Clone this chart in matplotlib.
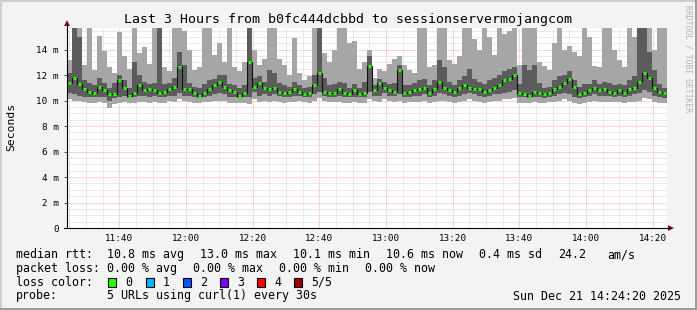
import numpy as np
import matplotlib
matplotlib.use('Agg')
import matplotlib.pyplot as plt
from matplotlib.patches import Rectangle, Polygon
from matplotlib.lines import Line2D

plt.rcParams['font.family'] = ['DejaVu Sans Mono']

W, H = 697, 310

# 3 hours, one value per 1.5 min step, in ms
step = 1.5
start_min = 11 * 60 + 24 + 20 / 60.0   # 11:24:20

# smoke: lightest band (lo1..hi1), darker band (lo2..hi2), median
lo1 = [10.1, 10.0, 10.0, 9.9, 9.8, 9.8, 9.9, 9.8, 9.4, 9.7,
       9.8, 9.9, 9.8, 9.8, 9.9, 9.9, 9.8, 9.9, 9.8, 9.8,
       10.0, 9.9, 10.1, 10.0, 9.9, 9.8, 9.8, 9.9, 9.9, 10.0,
       10.0, 10.0, 9.8, 9.8, 9.8, 9.8, 9.7, 10.1, 9.9, 10.0,
       9.9, 10.0, 9.9, 9.8, 9.9, 9.9, 10.0, 9.9, 9.8, 10.0,
       10.2, 10.0, 9.9, 9.9, 9.9, 9.8, 9.8, 9.9, 9.8, 9.8,
       10.1, 10.0, 9.9, 10.1, 10.0, 9.9, 10.0, 9.8, 9.9, 9.9,
       9.9, 10.0, 9.8, 9.9, 10.0, 10.0, 9.9, 9.8, 9.9, 10.0,
       10.1, 10.0, 9.9, 9.8, 9.9, 10.0, 10.0, 10.1, 10.1, 10.2,
       9.8, 9.8, 9.8, 9.9, 9.8, 9.8, 9.9, 9.9, 10.0, 10.1,
       10.0, 9.8, 9.7, 9.8, 9.9, 10.0, 9.9, 9.9, 9.9, 9.9,
       9.9, 9.8, 9.9, 9.9, 10.0, 10.2, 10.1, 9.9, 9.8, 9.8]

lo2 = [10.6, 10.5, 10.4, 10.3, 10.3, 10.3, 10.3, 10.3, 10.0, 10.2,
       10.3, 10.4, 10.2, 10.3, 10.4, 10.4, 10.3, 10.4, 10.3, 10.3,
       10.4, 10.4, 10.6, 10.4, 10.4, 10.3, 10.2, 10.3, 10.4, 10.5,
       10.6, 10.5, 10.3, 10.3, 10.2, 10.3, 10.3, 10.7, 10.4, 10.5,
       10.4, 10.5, 10.4, 10.3, 10.3, 10.4, 10.4, 10.3, 10.3, 10.5,
       10.7, 10.4, 10.3, 10.3, 10.4, 10.3, 10.3, 10.3, 10.3, 10.3,
       10.7, 10.4, 10.4, 10.6, 10.4, 10.4, 10.5, 10.3, 10.3, 10.4,
       10.4, 10.5, 10.3, 10.4, 10.6, 10.5, 10.4, 10.3, 10.4, 10.5,
       10.6, 10.5, 10.4, 10.3, 10.4, 10.5, 10.5, 10.6, 10.7, 10.8,
       10.3, 10.3, 10.2, 10.3, 10.3, 10.2, 10.3, 10.4, 10.5, 10.6,
       10.5, 10.3, 10.2, 10.3, 10.4, 10.5, 10.4, 10.4, 10.4, 10.3,
       10.4, 10.3, 10.4, 10.5, 10.6, 10.8, 10.7, 10.4, 10.3, 10.2]

median = [11.4, 11.8, 11.3, 10.9, 10.7, 10.6, 11.1, 10.8, 10.5, 10.5,
          11.6, 11.0, 10.4, 10.6, 11.2, 10.8, 10.9, 10.8, 10.6, 10.7,
          10.9, 11.1, 12.6, 10.9, 10.9, 10.6, 10.4, 10.6, 10.9, 11.2,
          11.5, 11.1, 10.8, 10.7, 10.4, 10.6, 13.0, 11.1, 11.4, 11.0,
          10.9, 11.0, 10.7, 10.6, 10.7, 10.9, 10.7, 10.5, 10.6, 11.2,
          12.2, 10.7, 10.6, 10.6, 10.9, 10.6, 10.5, 10.8, 10.5, 10.6,
          12.7, 10.8, 11.4, 11.0, 10.8, 10.7, 12.4, 10.6, 10.7, 10.8,
          10.9, 11.0, 10.6, 10.9, 11.5, 11.0, 10.8, 10.7, 11.0, 11.2,
          11.0, 10.9, 10.9, 10.7, 10.8, 11.0, 11.2, 11.6, 11.7, 12.0,
          10.6, 10.5, 10.4, 10.7, 10.6, 10.5, 10.6, 10.9, 11.1, 11.4,
          11.7, 11.1, 10.5, 10.6, 10.8, 11.0, 10.8, 10.9, 10.7, 10.6,
          10.8, 10.6, 10.9, 11.0, 11.5, 12.2, 11.8, 11.0, 10.7, 10.6]

hi2 = [12.2, 16, 15.0, 11.6, 11.4, 11.2, 11.8, 11.4, 11.0, 11.4,
       12.0, 11.6, 11.0, 13.0, 12.0, 11.5, 11.3, 11.4, 16, 11.3,
       11.4, 11.8, 13.8, 12.8, 11.4, 11.1, 11.0, 11.3, 11.6, 11.7,
       12.0, 12.0, 11.3, 11.2, 11.0, 11.2, 16, 11.8, 11.9, 11.5,
       12.4, 12.2, 11.4, 11.2, 11.1, 11.5, 11.2, 11.0, 11.1, 12.0,
       16, 11.8, 11.2, 11.3, 11.5, 11.4, 11.0, 11.3, 11.0, 11.5,
       13.5, 11.2, 11.7, 11.5, 11.3, 11.4, 12.8, 11.2, 11.2, 11.4,
       11.6, 11.7, 11.2, 11.6, 13.2, 12.6, 11.5, 11.2, 11.6, 11.9,
       12.5, 11.7, 11.5, 11.3, 11.6, 11.8, 12.0, 12.3, 12.5, 12.6,
       11.3, 12.8, 12.4, 12.8, 11.4, 11.0, 11.1, 11.6, 11.9, 12.0,
       12.3, 11.6, 11.1, 11.3, 11.3, 11.6, 11.3, 11.5, 11.4, 11.2,
       11.3, 11.2, 11.6, 11.9, 16, 16, 13.8, 12.4, 11.3, 11.0]

hi1 = [13.2, 16, 16, 12.8, 16, 12.4, 15.1, 13.9, 12.6, 12.2,
       15.4, 13.5, 12.5, 16, 13.7, 14.2, 12.9, 16, 16, 12.6,
       12.3, 16, 16, 15.5, 14.0, 12.4, 12.6, 16, 16, 13.6,
       14.5, 13.0, 16, 12.6, 12.3, 13.0, 16, 14.0, 12.8, 13.3,
       16, 16, 13.3, 12.8, 12.0, 14.9, 12.2, 11.6, 11.9, 16,
       16, 13.7, 13.0, 14.0, 16, 16, 14.5, 14.7, 12.5, 13.0,
       14.0, 11.8, 12.5, 12.3, 12.9, 13.3, 13.5, 12.8, 12.4, 12.2,
       16, 16, 12.6, 12.8, 16, 16, 13.2, 12.9, 13.5, 16,
       16, 14.8, 14.0, 16, 15.0, 13.6, 16, 15.2, 15.5, 15.8,
       12.8, 16, 16, 16, 13.0, 12.7, 12.4, 14.5, 16, 14.0,
       14.3, 13.8, 13.5, 16, 15.0, 12.7, 12.6, 16, 16, 14.0,
       13.2, 12.6, 16, 15.0, 16, 16, 16, 14.0, 16, 16]

major_times = ['11:40', '12:00', '12:20', '12:40', '13:00', '13:20', '13:40', '14:00', '14:20']
y_labels = ['0', '2 m', '4 m', '6 m', '8 m', '10 m', '12 m', '14 m']

loss_names = ['0', '1', '2', '3', '4', '5/5']
loss_colors = ['#26ff00', '#00b8ff', '#0059ff', '#7e00ff', '#ff0000', '#a10000']


def fx(x):
    return x / W


def fy(y):
    return 1 - y / H


def tmin(s):
    h, m = s.split(':')
    return int(h) * 60 + int(m) - start_min


fig = plt.figure(figsize=(W / 100, H / 100), dpi=100, facecolor='#f3f3f3')
ax = fig.add_axes([fx(67), fy(228), 600 / W, 200 / H])
ax.set_facecolor('white')

edges = np.arange(len(median) + 1) * step
ax.stairs(hi1, edges, baseline=lo1, fill=True, color='#a6a6a6', lw=0, zorder=1)
ax.stairs(hi2, edges, baseline=lo2, fill=True, color='#5c5c5c', lw=0, zorder=1.1)
ax.stairs(median, edges, baseline=None, color='#111111', lw=0.8, zorder=3)
ax.hlines(median, edges[:-1] + 0.3, edges[1:] - 0.3, color=loss_colors[0], lw=2.2, zorder=3.1)

ax.set_xlim(0, 180)
ax.set_ylim(0, 15.7)

ax.set_xticks([tmin(t) for t in major_times], major_times)
minor_x = [m - start_min for m in range(11 * 60 + 25, 14 * 60 + 25, 5)]
ax.set_xticks(minor_x, minor=True)
ax.set_yticks(np.arange(0, 15, 2), y_labels)
ax.set_yticks(np.arange(0, 15.7, 0.5), minor=True)

ax.set_axisbelow(True)
ax.grid(which='minor', color='#d6d6d6', linestyle=(0, (1, 1)), lw=0.72)
ax.grid(which='major', color='#ffaaaa', linestyle=(0, (1, 1)), lw=0.72)

ax.tick_params(axis='x', which='both', length=0, pad=4.3, labelsize=6.7)
ax.tick_params(axis='y', which='major', length=2.2, width=0.72, color='#555555', pad=3.6, labelsize=6.7)
ax.tick_params(axis='y', which='minor', length=0)
for s in ax.spines.values():
    s.set_visible(False)

# axis lines and arrows
fig.add_artist(Line2D([fx(67), fx(67)], [fy(228), fy(24)], color='black', lw=0.8))
fig.add_artist(Line2D([fx(64), fx(670)], [fy(228), fy(228)], color='black', lw=0.8))
fig.add_artist(Polygon([(fx(67), fy(20)), (fx(64), fy(26)), (fx(70), fy(26))],
                       closed=True, color='#8b1414', lw=0))
fig.add_artist(Polygon([(fx(674), fy(228)), (fx(668), fy(225)), (fx(668), fy(231))],
                       closed=True, color='#8b1414', lw=0))

# frame
fig.add_artist(Line2D([0, 1], [fy(0.5), fy(0.5)], color='#cfcfcf', lw=1.4))
fig.add_artist(Line2D([fx(0.5), fx(0.5)], [0, 1], color='#cfcfcf', lw=1.4))
fig.add_artist(Line2D([0, 1], [fy(309), fy(309)], color='#9a9a9a', lw=1.4))
fig.add_artist(Line2D([fx(696), fx(696)], [0, 1], color='#9a9a9a', lw=1.4))

fig.text(fx(348), fy(23.5), 'Last 3 Hours from b0fc444dcbbd to sessionservermojangcom',
         ha='center', va='baseline', fontsize=9.5)
fig.text(fx(11), fy(127), 'Seconds', rotation=90, ha='center', va='center', fontsize=8.2)
fig.text(fx(688), fy(5), 'RRDTOOL / TOBI OETIKER', rotation=270, ha='center', va='top',
         fontsize=5.8, color='#b4b4b4')

fs = 8.4
rows = [
    (258, [(16, 'median rtt:'), (107, '10.8 ms avg'), (200, '13.0 ms max'), (293, '10.1 ms min'),
           (386, '10.6 ms now'), (479, '0.4 ms sd'), (558, '24.2'), (607, 'am/s')]),
    (272, [(16, 'packet loss:'), (107, '0.00 % avg'), (193, '0.00 % max'), (279, '0.00 % min'),
           (365, '0.00 % now')]),
    (285.5, [(16, 'loss color:')]),
    (299.5, [(16, 'probe:'), (107, '5 URLs using curl(1) every 30s')]),
]
for base, items in rows:
    for x, s in items:
        fig.text(fx(x), fy(base), s, ha='left', va='baseline', fontsize=fs)

box_x = [108, 146, 183, 220, 257, 294]
for bx, name, c in zip(box_x, loss_names, loss_colors):
    fig.add_artist(Rectangle((fx(bx), fy(286.5)), 8 / W, 9 / H, facecolor=c,
                             edgecolor='black', lw=0.8))
    fig.text(fx(bx + 17), fy(285.5), name, ha='left', va='baseline', fontsize=fs)

fig.text(fx(681), fy(299.5), 'Sun Dec 21 14:24:20 2025', ha='right', va='baseline', fontsize=fs)

fig.savefig('out.png', dpi=100, facecolor=fig.get_facecolor())
